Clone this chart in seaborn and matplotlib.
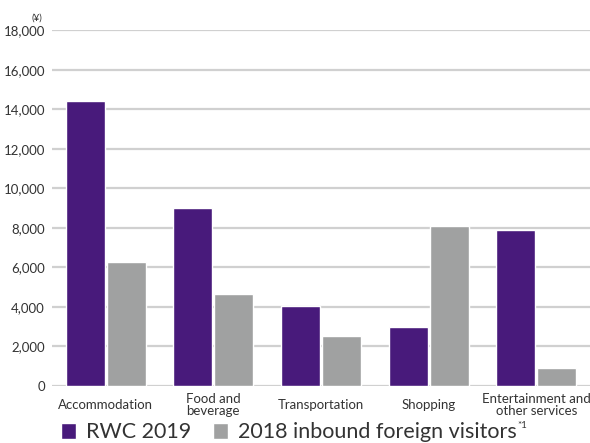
import matplotlib.pyplot as plt
import pandas as pd
import seaborn as sns

categories = ['Accommodation', 'Food and\nbeverage', 'Transportation', 'Shopping',
              'Entertainment and\nother services']
rwc_2019 = [14400, 9000, 4050, 2980, 7890]
inbound_2018 = [6280, 4650, 2530, 8090, 910]
series_names = ['RWC 2019', '2018 inbound foreign visitors']
yticks = list(range(0, 18001, 2000))

purple = '#481a7b'
grey = '#a0a1a1'
text_col = '#333333'

df = pd.DataFrame({
    'category': categories * 2,
    'value': rwc_2019 + inbound_2018,
    'series': [series_names[0]] * 5 + [series_names[1]] * 5,
})

sns.set_style('white')
plt.rcParams['font.family'] = ['Lato', 'DejaVu Sans']

fig = plt.figure(figsize=(5.9, 4.43), dpi=100)
ax = fig.add_axes([0.088, 0.1287, 0.912, 0.8033])

sns.barplot(data=df, x='category', y='value', hue='series', order=categories,
            hue_order=series_names, palette=[purple, grey], width=0.762, gap=0.05,
            saturation=1, ax=ax, legend=True)

ax.set_ylim(0, 18000)
ax.set_xlim(-0.5, 4.5)
ax.set_yticks(yticks)
ax.set_yticklabels([f'{v:,}' for v in yticks])
ax.yaxis.grid(True, color='#d0d0d0', linewidth=1.6)
ax.set_axisbelow(True)
for s in ax.spines.values():
    s.set_visible(False)
ax.tick_params(axis='y', length=0, pad=5, labelsize=9.5, labelcolor=text_col)
ax.tick_params(axis='x', length=0, pad=13.5, labelsize=9.5, labelcolor=text_col)
for lbl in ax.get_xticklabels():
    lbl.set_verticalalignment('center')
    lbl.set_linespacing(1.0)
ax.set_xlabel('')
ax.set_ylabel('')
ax.text(-0.028, 1.035, '(¥)', transform=ax.transAxes, fontsize=7, color=text_col,
        ha='center', va='center')

handles, labels = ax.get_legend_handles_labels()
ax.get_legend().remove()
leg = fig.legend(handles, labels, loc='center left', bbox_to_anchor=(0.07, 0.024), ncol=2,
                 frameon=False, fontsize=15.5, handlelength=0.72, handleheight=0.72,
                 handletextpad=0.45, columnspacing=1.0, labelcolor=text_col)

# small "*1" superscript after the second legend entry
fig.canvas.draw()
bb = leg.get_texts()[1].get_window_extent().transformed(fig.transFigure.inverted())
fig.text(bb.x1 + 0.002, bb.y1 + 0.004, '*1', fontsize=7, color=text_col, ha='left', va='top')

fig.savefig('out.png', dpi=100)
